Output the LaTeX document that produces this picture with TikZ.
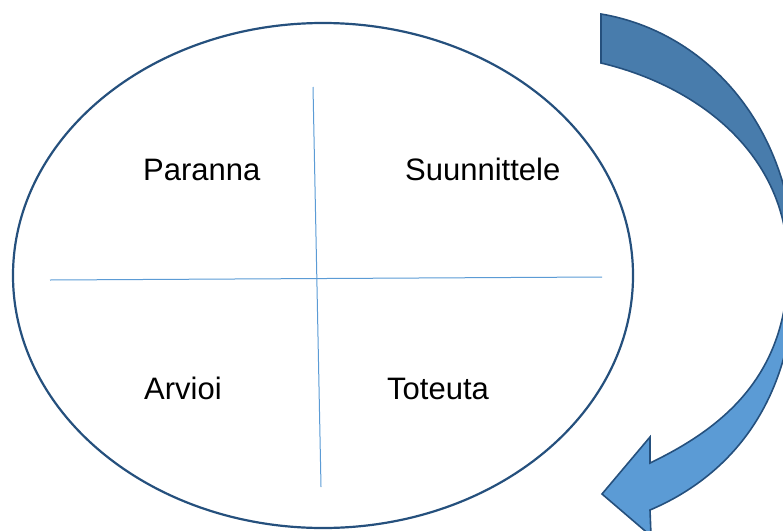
\documentclass[tikz,border=0pt]{standalone}
\usepackage{fontspec}
\setmainfont{Liberation Sans}
\usetikzlibrary{shapes.geometric}
\definecolor{rimblue}{RGB}{37,80,125}
\definecolor{lineblue}{RGB}{91,155,213}
\definecolor{arrowlight}{RGB}{91,155,213}
\definecolor{arrowdark}{RGB}{72,124,172}
\tikzset{
  lbltext/.style={anchor=base west, inner sep=0pt, font=\fontsize{31}{36}\selectfont},
  rim/.style={draw=rimblue, line width=2.2pt},
  axis/.style={draw=lineblue, line width=1pt},
  arrowline/.style={draw=rimblue, line width=1.6pt, line join=miter},
}
\def\arrowpath{(601,14) .. controls (708,32) and (795,129) .. (795,270)
  .. controls (795,402) and (730,476) .. (650,510)
  -- (651,536) -- (602,494) -- (650,437) -- (650,463)
  .. controls (725,427) and (788,374) .. (788,265)
  .. controls (788,154) and (698,86) .. (601,63) -- cycle}
\begin{document}
\begin{tikzpicture}[x=1pt,y=-1pt]
\useasboundingbox (0,0) rectangle (783,530);
\begin{scope}
\clip (0,0) rectangle (783,530);
% ellipse
\node[rim, ellipse, minimum width=620pt, minimum height=505pt, inner sep=0pt] (circ) at (323,275.5) {};
% cross lines
\coordinate (vtop) at (313,87);
\coordinate (vbot) at (321,487);
\coordinate (hleft) at (50,280);
\coordinate (hright) at (602,277);
\draw[axis] (vtop) -- (vbot);
\draw[axis] (hleft) -- (hright);
% curved arrow
\fill[arrowlight] \arrowpath;
\begin{scope}
\clip (590,0) rectangle (800,270);
\fill[arrowdark] \arrowpath;
\end{scope}
\draw[arrowline] \arrowpath;
\end{scope}
% labels
\node[lbltext] (paranna) at (143,180) {Paranna};
\node[lbltext] (suunn) at (405,180) {Suunnittele};
\node[lbltext] (arvioi) at (144,399) {Arvioi};
\node[lbltext] (toteuta) at (387,399) {Toteuta};
\end{tikzpicture}
\end{document}
